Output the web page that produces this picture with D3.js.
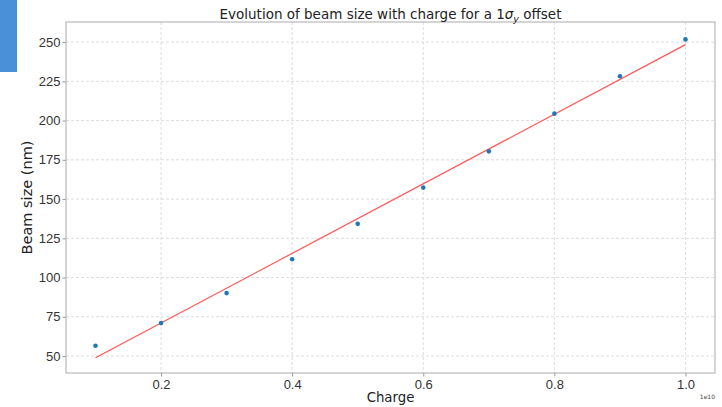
<!DOCTYPE html>
<html lang="en">
<head>
<meta charset="UTF-8">
<title>Beam size vs charge</title>
<script src="https://cdn.jsdelivr.net/npm/d3@7"></script>
<style>
  body { margin: 0; background: #fff; }
  svg { display: block; font-family: "DejaVu Sans", sans-serif; }
  .tick text { fill: #333; font-size: 13px; }
  .tick line { stroke: #999; }
  .grid line { stroke: #ddd; stroke-dasharray: 3,2; }
</style>
</head>
<body>
<script>
  // data (charge in units of 1e10)
  const charge = [0.1, 0.2, 0.3, 0.4, 0.5, 0.6, 0.7, 0.8, 0.9, 1.0];
  const beamSize = [56.6, 71, 90.1, 111.7, 134.2, 157.3, 180.4, 204.4, 228.2, 251.7];
  const fitX = [0.1, 1.0];
  const fitY = [48.9, 248.4];
  const xTicks = [0.2, 0.4, 0.6, 0.8, 1.0];
  const yTicks = [50, 75, 100, 125, 150, 175, 200, 225, 250];

  const width = 722, height = 407;
  const margin = {left: 66, right: 7, top: 22, bottom: 34};

  const svg = d3.select('body').append('svg')
      .attr('width', width)
      .attr('height', height);

  // blue block at the top left
  svg.append('rect')
      .attr('x', 0).attr('y', 0)
      .attr('width', 17).attr('height', 72)
      .attr('fill', '#4a90d9');

  const x = d3.scaleLinear()
      .domain([0.055, 1.045])
      .range([margin.left, width - margin.right]);
  const y = d3.scaleLinear()
      .domain([39.2, 262.8])
      .range([height - margin.bottom, margin.top]);

  // grid
  svg.append('g').attr('class', 'grid')
    .selectAll('line').data(xTicks).join('line')
      .attr('x1', d => x(d)).attr('x2', d => x(d))
      .attr('y1', margin.top).attr('y2', height - margin.bottom);
  svg.append('g').attr('class', 'grid')
    .selectAll('line').data(yTicks).join('line')
      .attr('y1', d => y(d)).attr('y2', d => y(d))
      .attr('x1', margin.left).attr('x2', width - margin.right);

  // axes
  const xAxis = svg.append('g')
      .attr('transform', 'translate(0,' + (height - margin.bottom) + ')')
      .call(d3.axisBottom(x).tickValues(xTicks).tickFormat(d3.format('.1f')).tickSize(3.5).tickPadding(3));
  const yAxis = svg.append('g')
      .attr('transform', 'translate(' + margin.left + ',0)')
      .call(d3.axisLeft(y).tickValues(yTicks).tickSize(3.5).tickPadding(2));
  xAxis.select('.domain').remove();
  yAxis.select('.domain').remove();
  xAxis.selectAll('text').attr('font-family', null).attr('font-size', null);
  yAxis.selectAll('text').attr('font-family', null).attr('font-size', null);

  // frame
  svg.append('rect')
      .attr('x', margin.left).attr('y', margin.top)
      .attr('width', width - margin.left - margin.right)
      .attr('height', height - margin.top - margin.bottom)
      .attr('fill', 'none')
      .attr('stroke', '#aaa');

  // fit line
  svg.append('path')
      .datum(fitX.map((d, i) => [d, fitY[i]]))
      .attr('fill', 'none')
      .attr('stroke', '#ff5555')
      .attr('stroke-width', 1.2)
      .attr('d', d3.line().x(d => x(d[0])).y(d => y(d[1])));

  // points
  svg.append('g').selectAll('circle')
    .data(charge).join('circle')
      .attr('cx', d => x(d))
      .attr('cy', (d, i) => y(beamSize[i]))
      .attr('r', 2.3)
      .attr('fill', '#1f77b4');

  // title
  const title = svg.append('text')
      .attr('x', (margin.left + width - margin.right) / 2)
      .attr('y', 19)
      .attr('text-anchor', 'middle')
      .attr('font-size', 13.5)
      .attr('fill', '#222');
  title.append('tspan').text('Evolution of beam size with charge for a 1');
  title.append('tspan').attr('font-style', 'italic').text('σ');
  title.append('tspan').attr('font-style', 'italic').attr('font-size', 9.5).attr('dy', 3).text('y');
  title.append('tspan').attr('dy', -3).text(' offset');

  // axis labels
  svg.append('text')
      .attr('x', (margin.left + width - margin.right) / 2)
      .attr('y', 402)
      .attr('text-anchor', 'middle')
      .attr('font-size', 13.3)
      .attr('fill', '#222')
      .text('Charge');
  svg.append('text')
      .attr('transform', 'translate(32,' + ((margin.top + height - margin.bottom) / 2) + ') rotate(-90)')
      .attr('text-anchor', 'middle')
      .attr('font-size', 14.5)
      .attr('fill', '#222')
      .text('Beam size (nm)');
  svg.append('text')
      .attr('x', 715)
      .attr('y', 399)
      .attr('text-anchor', 'end')
      .attr('font-size', 6)
      .attr('fill', '#444')
      .text('1e10');
</script>
</body>
</html>
